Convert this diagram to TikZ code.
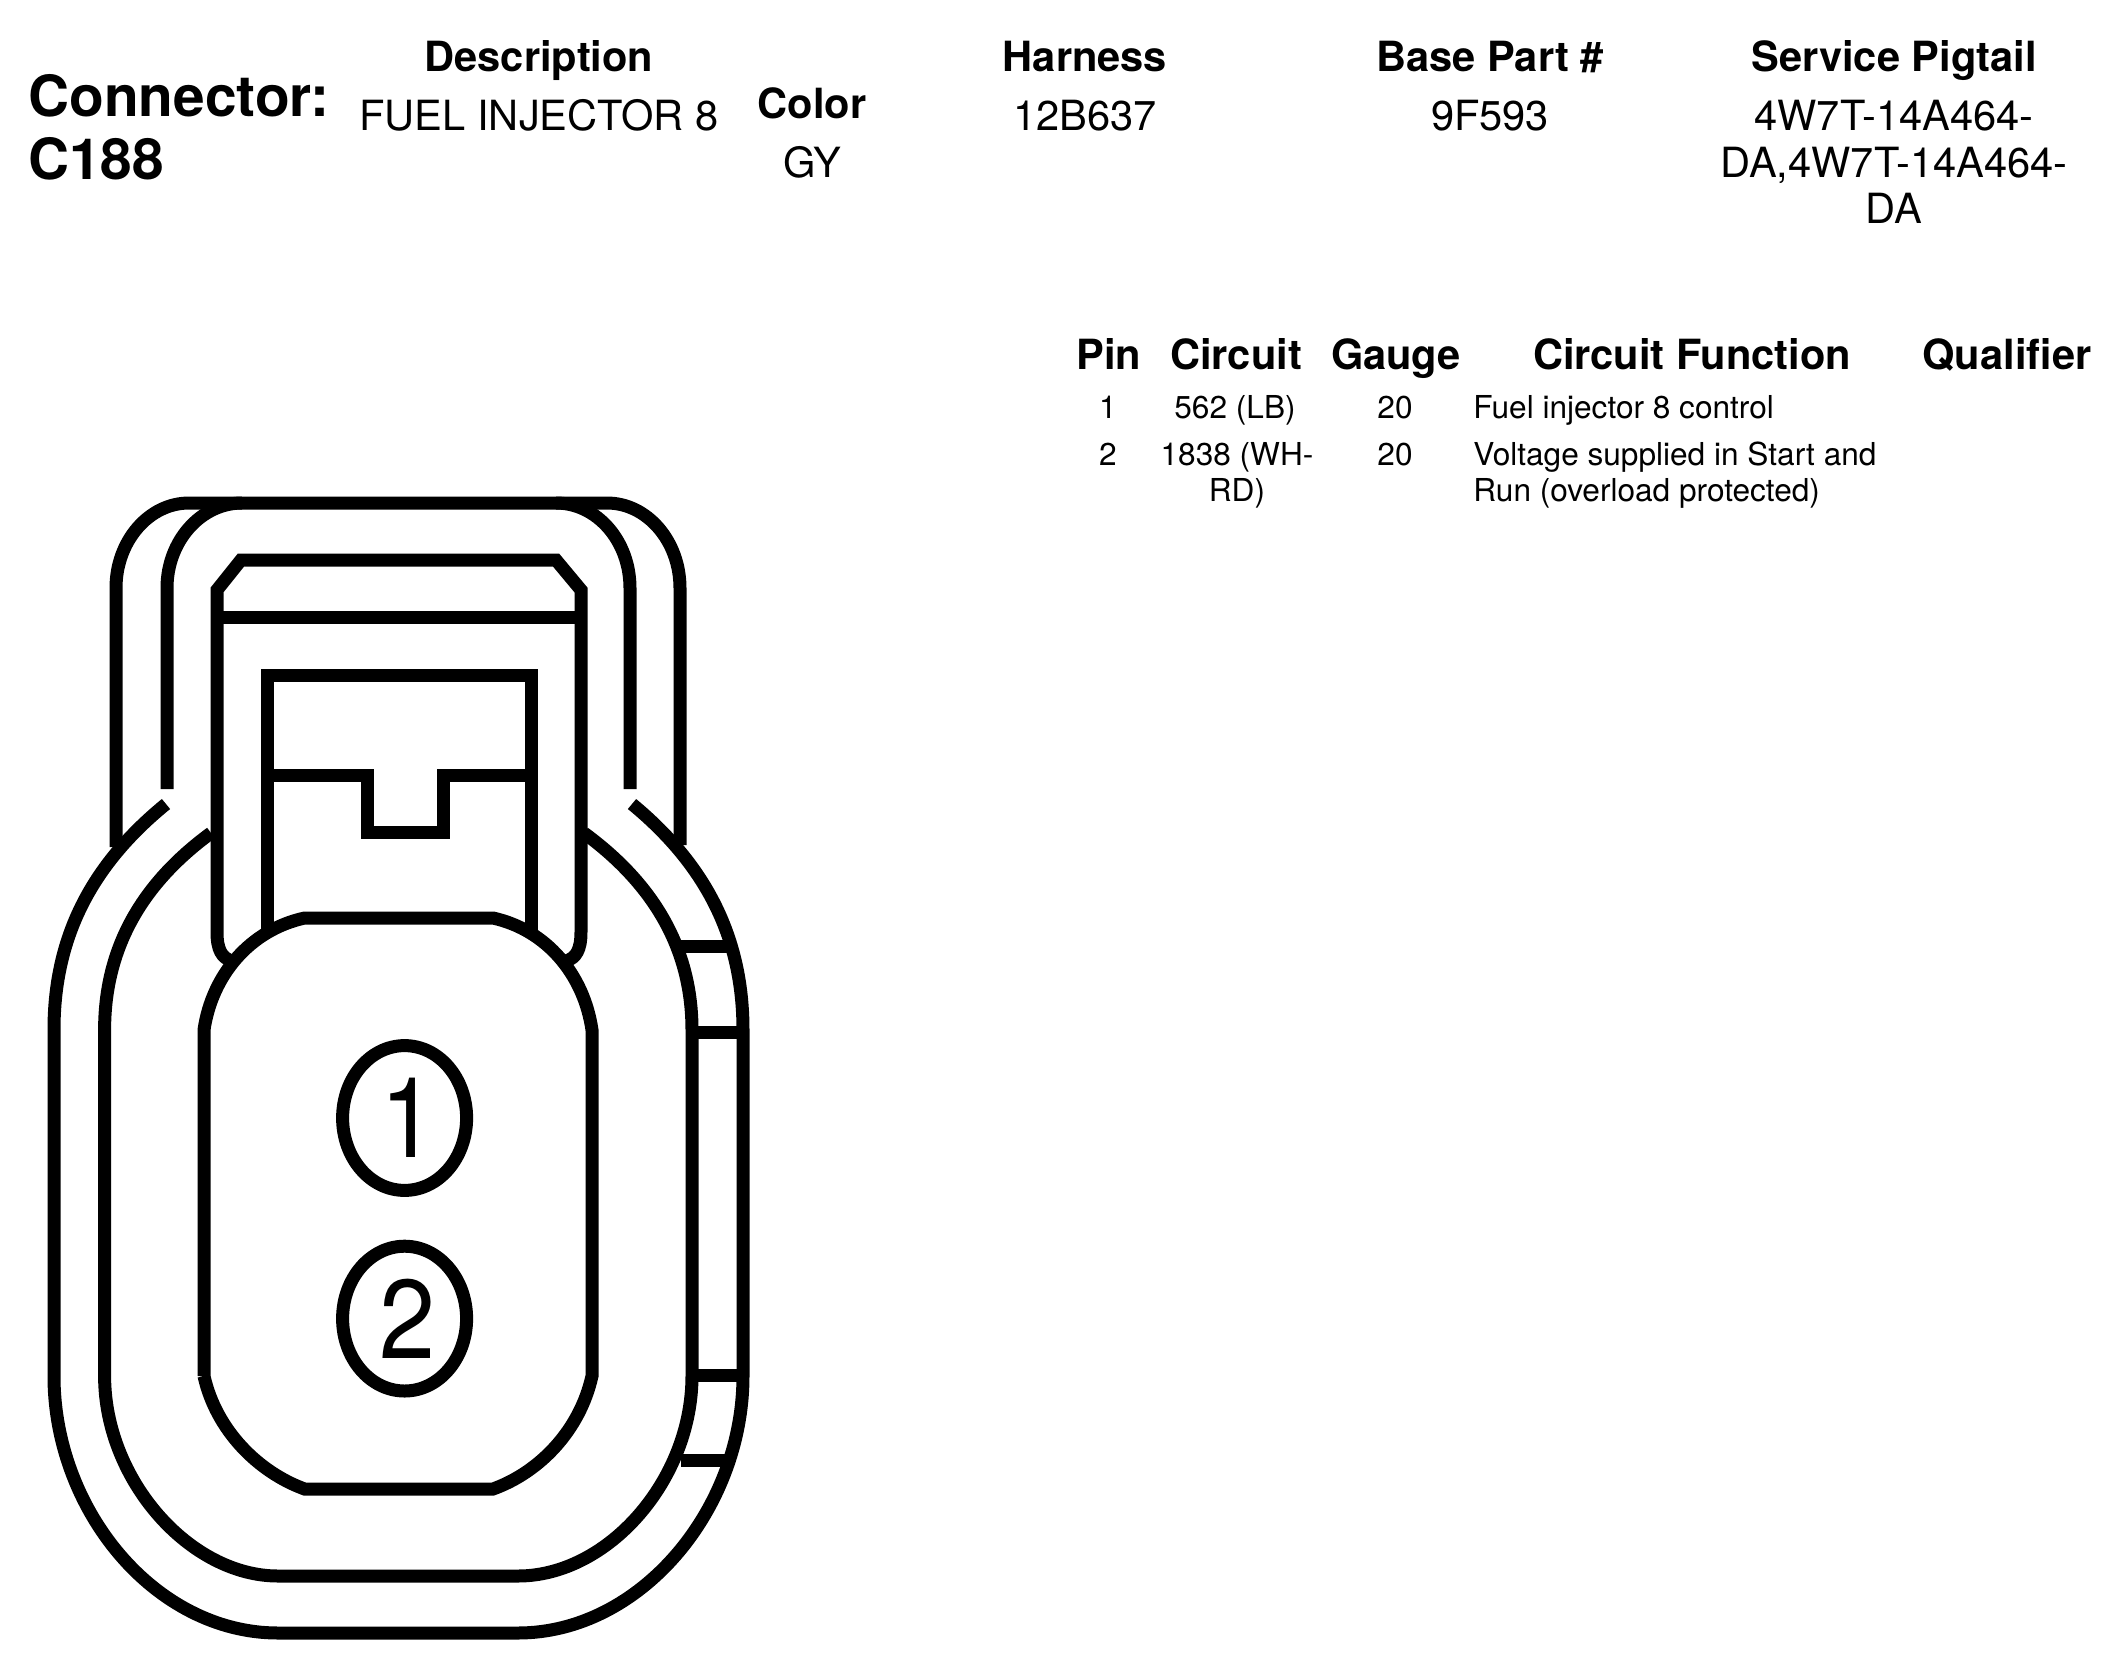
\documentclass[tikz,border=0pt]{standalone}
\usepackage{fontspec}
\setmainfont{TeX Gyre Heros}
\usetikzlibrary{shapes.geometric}
\tikzset{
  ln/.style={draw=black,line width=6.5pt,line join=miter},
  hd/.style={anchor=base,inner sep=0pt,font=\fontsize{20.8}{24}\selectfont\bfseries},
  tx/.style={anchor=base,inner sep=0pt,font=\fontsize{20.8}{24}\selectfont},
  big/.style={anchor=base west,inner sep=0pt,font=\fontsize{28.4}{32}\selectfont\bfseries},
  sm/.style={anchor=base,inner sep=0pt,font=\fontsize{15.8}{18}\selectfont},
  sml/.style={anchor=base west,inner sep=0pt,font=\fontsize{15.8}{18}\selectfont},
  pinmark/.style={ellipse,draw=black,line width=6.5pt,inner sep=0pt,minimum width=62pt,minimum height=72.4pt,font=\fontsize{56}{60}\selectfont},
}
\begin{document}
\begin{tikzpicture}[x=0.5pt,y=-0.5pt]
\useasboundingbox (0,0) rectangle (2111,1666);
% header
\node[big] (conn) at (28,116) {Connector:};
\node[big] (cnum) at (28,179) {C188};
\node[hd] (h1) at (539,71) {Description};
\node[tx] (v1) at (539,130) {FUEL INJECTOR 8};
\node[hd] (h2) at (812,118) {Color};
\node[tx] (v2) at (812,177) {GY};
\node[hd] (h3) at (1085,71) {Harness};
\node[tx] (v3) at (1085,130) {12B637};
\node[hd] (h4) at (1490,71) {Base Part \#};
\node[tx] (v4) at (1490,130) {9F593};
\node[hd] (h5) at (1894,71) {Service Pigtail};
\node[tx] (v5a) at (1894,130) {4W7T-14A464-};
\node[tx] (v5b) at (1894,177) {DA,4W7T-14A464-};
\node[tx] (v5c) at (1894,223) {DA};
% table
\node[hd] (t1) at (1109,369) {Pin};
\node[hd] (t2) at (1236,369) {Circuit};
\node[hd] (t3) at (1396,369) {Gauge};
\node[hd] (t4) at (1692,369) {Circuit Function};
\node[hd] (t5) at (2007,369) {Qualifier};
\node[sm] (r1a) at (1108,418) {1};
\node[sm] (r1b) at (1235,418) {562 (LB)};
\node[sm] (r1c) at (1395,418) {20};
\node[sml] (r1d) at (1473,418) {Fuel injector 8 control};
\node[sm] (r2a) at (1108,465) {2};
\node[sm] (r2b) at (1237,465) {1838 (WH-};
\node[sm] (r2b2) at (1237,501) {RD)};
\node[sm] (r2c) at (1395,465) {20};
\node[sml] (r2d) at (1473,465) {Voltage supplied in Start and};
\node[sml] (r2d2) at (1473,501) {Run (overload protected)};
% outer hood
\draw[ln] (116,847) -- (116,588) .. controls (116,541) and (149,503) .. (189,503)
  -- (607,503) .. controls (647,503) and (680,541) .. (680,588) -- (680,845);
% second hood
\draw[ln] (167,789) -- (167,588) .. controls (167,541) and (201,503) .. (242,503);
\draw[ln] (630,789) -- (630,588) .. controls (630,541) and (597,503) .. (556,503);
% latch frame
\draw[ln] (232,961) .. controls (222,958) and (217,950) .. (217,932) -- (217,590) -- (241,560)
  -- (556,560) -- (581,590) -- (581,932) .. controls (581,950) and (576,958) .. (566,961);
\draw[ln] (217,617) -- (581,617);
% inner window
\draw[ln] (267,932) -- (267,675) -- (531,675) -- (531,932);
\draw[ln] (267,775) -- (367,775) -- (367,832) -- (443,832) -- (443,775) -- (531,775);
% outer body
\draw[ln] (166,804) .. controls (85,870) and (54,945) .. (54,1030) -- (54,1376)
  .. controls (54,1510) and (155,1633) .. (278,1633) -- (518,1633)
  .. controls (640,1633) and (743,1510) .. (743,1376) -- (743,1030)
  .. controls (743,945) and (712,870) .. (632,804);
% inner body
\draw[ln] (211,833) .. controls (140,885) and (104.6,950) .. (104.6,1030) -- (104.6,1376)
  .. controls (104.6,1480) and (190,1576) .. (278,1576) -- (518,1576)
  .. controls (608,1576) and (692,1480) .. (692,1376) -- (692,1030)
  .. controls (692,950) and (655,885) .. (584,833);
% side tabs
\draw[ln] (681,946) -- (734,946);
\draw[ln] (692,1032) -- (743,1032);
\draw[ln] (692,1375) -- (743,1375);
\draw[ln] (681,1460) -- (734,1460);
% plug
\draw[ln] (204,1376) -- (204,1030) .. controls (212,975) and (250,930) .. (304.6,918)
  -- (493,918) .. controls (547,930) and (584,975) .. (592,1030) -- (592,1376)
  .. controls (580,1430) and (540,1472) .. (493,1489) -- (304.6,1489)
  .. controls (258,1472) and (216,1430) .. (204,1376);
% pins
\node[pinmark] (pin1) at (404.6,1118) {\kern4pt\scalebox{.9}[1]{1}};
\node[pinmark] (pin2) at (404.6,1318.6) {\kern3pt\scalebox{.9}[1]{2}};
\end{tikzpicture}
\end{document}
